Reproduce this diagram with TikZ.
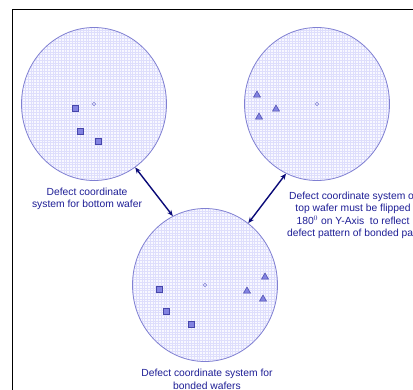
\documentclass[tikz,border=0pt]{standalone}
\usepackage{fontspec}
\setmainfont{Liberation Sans}
\usetikzlibrary{shapes.geometric,arrows.meta,positioning}

\definecolor{waferedge}{RGB}{128,128,210}
\definecolor{wafergrid}{RGB}{222,222,252}
\definecolor{waferfill}{RGB}{248,248,255}
\definecolor{defectfill}{RGB}{130,130,225}
\definecolor{defectedge}{RGB}{70,70,170}
\definecolor{labelblue}{RGB}{30,30,150}
\definecolor{arrownavy}{RGB}{10,10,120}

\begin{document}
\begin{tikzpicture}[x=1pt,y=-1pt]

		\tikzset{
			wafer/.style={ellipse, draw=waferedge, line width=0.8pt, fill=waferfill,
				minimum width=145pt, minimum height=153pt, inner sep=0pt,
				path picture={\draw[wafergrid, line width=0.3pt, step=2.75pt]
					(path picture bounding box.south west) grid (path picture bounding box.north east);}},
			centre/.style={circle, draw=waferedge, line width=0.5pt, minimum size=3.5pt, inner sep=0pt},
			defsq/.style={rectangle, draw=defectedge, line width=0.6pt, fill=defectfill,
				minimum size=6pt, inner sep=0pt},
			deftri/.style={regular polygon, regular polygon sides=3, draw=defectedge, line width=0.5pt,
				fill=defectfill, minimum size=8pt, inner sep=0pt},
			caption/.style={text=labelblue, align=center, font=\fontsize{10.3}{12.5}\selectfont},
			biarrow/.style={{Stealth[length=6pt,width=5pt]}-{Stealth[length=6pt,width=5pt]},
				draw=arrownavy, line width=1.4pt},
		}

		\useasboundingbox (0,0) rectangle (413,389);
		\clip (0,0) rectangle (413,389);
		\fill[white] (0,0) rectangle (413,389);

		% frame
		\draw [line width=1pt] (12,400) -- (12,9) -- (420,9);

		% wafers
		\node [wafer] (bottom) at (94,104) {};
		\node [wafer] (top) at (317,104) {};
		\node [wafer] (bonded) at (205,285) {};

		\node [centre] at (bottom.center) {};
		\node [centre] at (top.center) {};
		\node [centre] at (bonded.center) {};

		% bottom wafer defects
		\node [defsq] (b1) at (75,108) {};
		\node [defsq] (b2) at (80,131) {};
		\node [defsq] (b3) at (98,141) {};

		% top wafer defects
		\node [deftri] (t1) at (257,95) {};
		\node [deftri] (t2) at (259,117) {};
		\node [deftri] (t3) at (276,109) {};

		% bonded wafer defects
		\node [defsq] (c1) at (159,289) {};
		\node [defsq] (c2) at (166,311) {};
		\node [defsq] (c3) at (191,324) {};
		\node [deftri] (c4) at (265,277) {};
		\node [deftri] (c5) at (247,291) {};
		\node [deftri] (c6) at (263,299) {};

		\draw [biarrow] (bottom.-57) -- (bonded.115);
		\draw [biarrow] (top.-114) -- (bonded.55);

		\node [caption] (lbottom) at (87,199) {Defect coordinate\\system for bottom wafer};
		\node [caption] (ltop) at (353,215.5) {Defect coordinate system of\\top wafer must be flipped\\180$^0$ on Y-Axis\ \ to reflect\\defect pattern of bonded pair};
		\node [caption] (lbonded) at (207,379.5) {Defect coordinate system for\\bonded wafers};
\end{tikzpicture}
\end{document}
